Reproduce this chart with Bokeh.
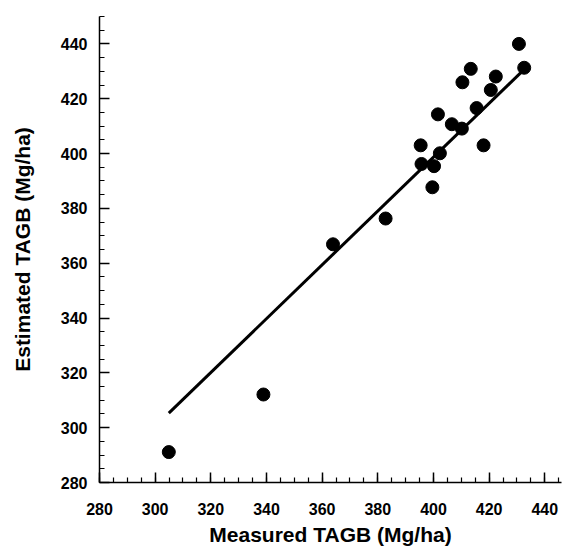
from bokeh.plotting import figure
from bokeh.models import Range1d, SingleIntervalTicker
from bokeh.embed import file_html
from bokeh.resources import INLINE

# Data
measured = [304.9, 338.9, 363.9, 382.8, 399.6, 400.2, 395.7, 402.3, 395.4, 418.0,
            410.2, 406.6, 401.6, 415.5, 420.6, 410.4, 422.4, 413.4, 432.6, 430.7]
estimated = [291.1, 312.1, 366.9, 376.3, 387.7, 395.4, 396.2, 400.1, 403.0, 403.0,
             409.1, 410.7, 414.3, 416.6, 423.2, 426.0, 428.1, 430.9, 431.3, 440.0]
fit_x = [304.9, 432.6]
fit_y = [305.3, 430.7]

FONT = "Liberation Sans"

p = figure(width=564, height=550, output_backend="svg", toolbar_location=None,
           x_range=Range1d(280, 446), y_range=Range1d(280, 450),
           min_border_left=99, min_border_right=3, min_border_top=16, min_border_bottom=68)
p.outline_line_color = None
p.xgrid.grid_line_color = None
p.ygrid.grid_line_color = None

p.line(fit_x, fit_y, line_color="black", line_width=3)
p.scatter(measured, estimated, size=13, fill_color="black", line_color="black", marker="circle")

for ax in (p.xaxis[0], p.yaxis[0]):
    ax.ticker = SingleIntervalTicker(interval=20, num_minor_ticks=4)
    ax.axis_line_color = "black"
    ax.axis_line_width = 1.5
    ax.major_tick_in = 10
    ax.major_tick_out = 0
    ax.minor_tick_in = 5
    ax.minor_tick_out = 0
    ax.major_tick_line_color = "black"
    ax.minor_tick_line_color = "black"
    ax.major_tick_line_width = 1.5
    ax.minor_tick_line_width = 1.2
    ax.major_label_text_font = FONT
    ax.major_label_text_font_style = "bold"
    ax.major_label_text_font_size = "16px"
    ax.major_label_text_color = "black"
    ax.axis_label_text_font = FONT
    ax.axis_label_text_font_style = "bold"
    ax.axis_label_text_font_size = "21px"
    ax.axis_label_text_color = "black"

p.xaxis.axis_label = "Measured TAGB (Mg/ha)"
p.yaxis.axis_label = "Estimated TAGB (Mg/ha)"
p.xaxis.major_label_standoff = 20
p.xaxis.axis_label_standoff = 5
p.yaxis.major_label_standoff = 12
p.yaxis.axis_label_standoff = 24

open("out.html", "w").write(file_html(p, INLINE))
